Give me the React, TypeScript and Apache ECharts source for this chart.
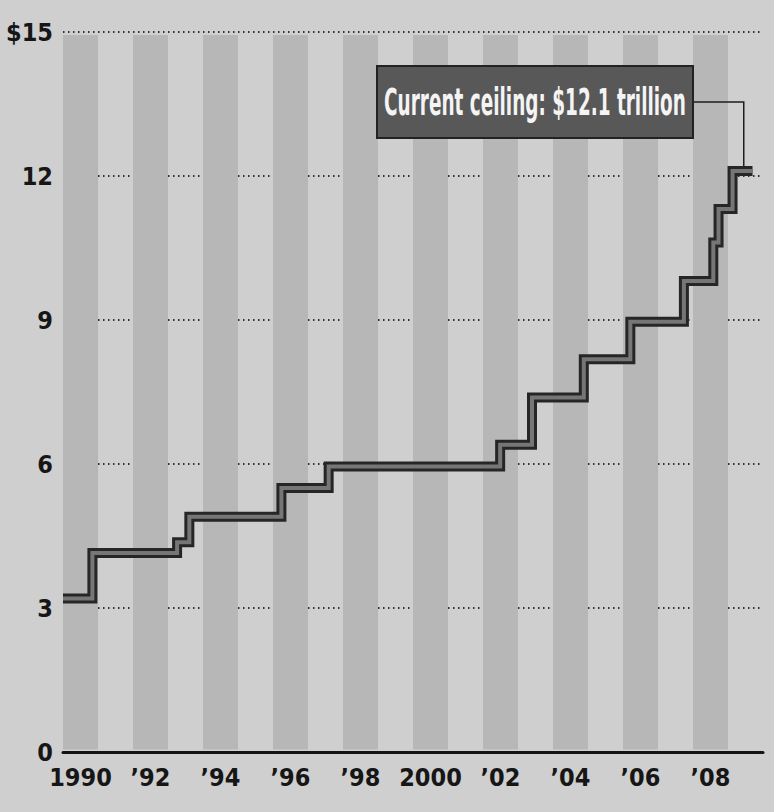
import React, { useEffect, useRef } from "react";
import * as echarts from "echarts";

// Debt ceiling changes: [year (decimal), $ trillion]
const changeDates = [1990.0, 1990.84, 1993.26, 1993.61, 1996.24, 1997.59, 2002.49, 2003.4, 2004.88, 2006.21, 2007.74, 2008.58, 2008.73, 2009.13, 2009.7];
const ceilingValues = [3.2, 4.145, 4.37, 4.9, 5.5, 5.95, 6.4, 7.384, 8.184, 8.965, 9.815, 10.615, 11.315, 12.104, 12.104];

const years = [1990, 1991, 1992, 1993, 1994, 1995, 1996, 1997, 1998, 1999, 2000, 2001, 2002, 2003, 2004, 2005, 2006, 2007, 2008, 2009];
const yearLabels = ["1990", "", "\u201992", "", "\u201994", "", "\u201996", "", "\u201998", "", "2000", "", "\u201902", "", "\u201904", "", "\u201906", "", "\u201908", ""];
const stripeYears = [1990, 1992, 1994, 1996, 1998, 2000, 2002, 2004, 2006, 2008];
const yTickLabels: Record<number, string> = { 0: "0", 3: "3", 6: "6", 9: "9", 12: "12", 15: "$15" };

const annotationText = "Current ceiling: $12.1 trillion";
const annotationPoint = [2009.45, 12.104];

const FONT = "'DejaVu Sans Condensed', 'Liberation Sans Narrow', 'Noto Sans', sans-serif";

export default function App() {
  const ref = useRef<HTMLDivElement>(null);
  useEffect(() => {
    if (!ref.current) return;
    const chart = echarts.init(ref.current, null, { renderer: "svg" });
    const stepData = changeDates.map((d, i) => [d, ceilingValues[i]]);
    const option: any = {
      animation: false,
      backgroundColor: "#cfcfcf",
      grid: { left: 63, right: 11, top: 32, bottom: 60, containLabel: false },
      xAxis: [
        { type: "value", min: 1990, max: 2010, show: false },
        {
          type: "category",
          data: years.map(String),
          boundaryGap: true,
          position: "bottom",
          axisLine: { show: true, lineStyle: { color: "#141414", width: 3 } },
          axisTick: { show: false },
          splitLine: { show: false },
          axisLabel: {
            interval: 0,
            margin: 13,
            color: "#161616",
            fontFamily: FONT,
            fontWeight: "bold",
            fontSize: 25,
            formatter: (_v: string, idx: number) => yearLabels[idx],
          },
        },
      ],
      yAxis: {
        type: "value",
        min: 0,
        max: 15,
        interval: 3,
        axisLine: { show: false },
        axisTick: { show: false },
        splitLine: { show: true, lineStyle: { color: "#333", width: 2, type: [1.5, 3.5] } },
        axisLabel: {
          margin: 10,
          color: "#161616",
          fontFamily: FONT,
          fontWeight: "bold",
          fontSize: 25,
          formatter: (v: number) => yTickLabels[v] ?? String(v),
        },
      },
      series: [
        {
          type: "line",
          name: "stripes",
          xAxisIndex: 0,
          data: [],
          silent: true,
          markArea: {
            silent: true,
            itemStyle: { color: "#b7b7b7" },
            data: stripeYears.map((y) => [{ xAxis: y, yAxis: 0.05 }, { xAxis: y + 1, yAxis: 14.94 }]),
          },
        },
        {
          type: "line",
          name: "outline",
          xAxisIndex: 0,
          step: "end",
          data: stepData,
          showSymbol: false,
          lineStyle: { color: "#262626", width: 10, cap: "butt", join: "miter" },
          z: 3,
        },
        {
          type: "line",
          name: "ceiling",
          xAxisIndex: 0,
          step: "end",
          data: stepData,
          showSymbol: false,
          lineStyle: { color: "#767676", width: 4, cap: "butt", join: "miter" },
          z: 4,
        },
      ],
    };
    chart.setOption(option);
    const p = chart.convertToPixel({ xAxisIndex: 0, yAxisIndex: 0 }, annotationPoint) as number[];
    const boxX = 377, boxY = 66, boxW = 316, boxH = 72;
    const leaderY = boxY + boxH / 2;
    chart.setOption({
      graphic: [
        {
          type: "polyline",
          z: 10,
          shape: { points: [[boxX + boxW, leaderY], [p[0], leaderY], [p[0], p[1] - 5]] },
          style: { stroke: "#1e1e1e", lineWidth: 1.5, fill: null },
        },
        {
          type: "rect",
          z: 11,
          shape: { x: boxX, y: boxY, width: boxW, height: boxH },
          style: { fill: "#585858", stroke: "#222", lineWidth: 2 },
        },
        {
          type: "text",
          z: 12,
          x: boxX + boxW / 2,
          y: leaderY,
          scaleY: 1.8,
          style: {
            text: annotationText,
            fill: "#f4f4f4",
            font: `bold 20.5px ${FONT}`,
            align: "center",
            verticalAlign: "middle",
          },
        },
      ],
    });
    return () => chart.dispose();
  }, []);
  return <div ref={ref} style={{ position: "fixed", left: 0, top: 0, width: 774, height: 812 }} />;
}
